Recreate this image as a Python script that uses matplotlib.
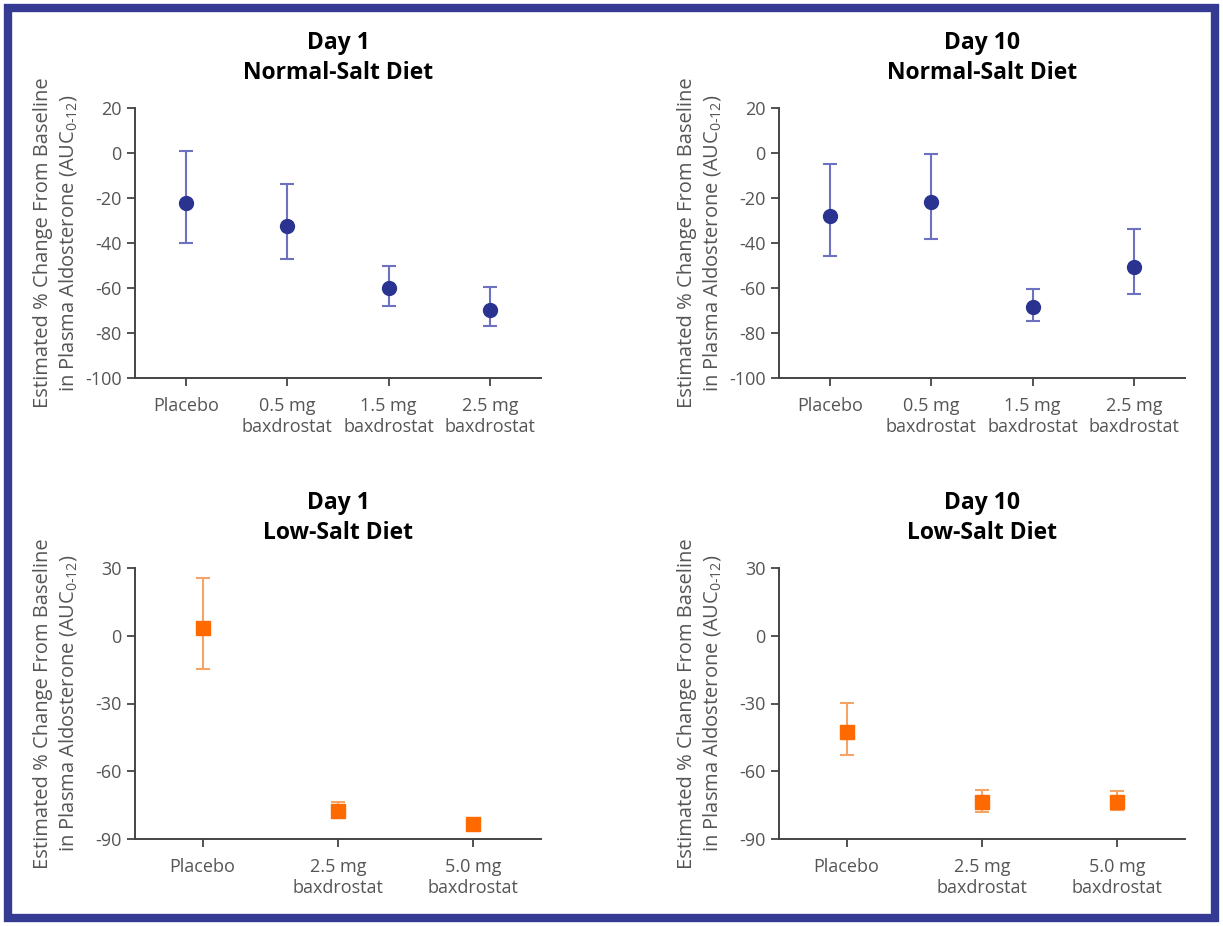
import matplotlib
matplotlib.use("Agg")
import matplotlib.pyplot as plt
import numpy as np
from matplotlib.patches import Rectangle

plt.rcParams['font.family'] = ['Open Sans', 'DejaVu Sans']
plt.rcParams['mathtext.fontset'] = 'custom'
plt.rcParams['mathtext.rm'] = 'Open Sans'
plt.rcParams['axes.unicode_minus'] = False

# normal-salt diet (4 groups)
normal_groups = ['Placebo', '0.5 mg\nbaxdrostat', '1.5 mg\nbaxdrostat', '2.5 mg\nbaxdrostat']
normal_d1 = [-22.3, -32.4, -60.0, -69.6]
normal_d1_lo = [-40.0, -46.9, -68.0, -76.8]
normal_d1_hi = [0.7, -13.7, -50.0, -59.7]
normal_d10 = [-28.2, -21.8, -68.3, -50.6]
normal_d10_lo = [-45.6, -38.3, -74.5, -62.8]
normal_d10_hi = [-4.9, -0.6, -60.6, -33.8]

# low-salt diet (3 groups)
low_groups = ['Placebo', '2.5 mg\nbaxdrostat', '5.0 mg\nbaxdrostat']
low_d1 = [3.3, -77.8, -83.2]
low_d1_lo = [-14.9, -80.9, -84.5]
low_d1_hi = [25.4, -73.7, -81.9]
low_d10 = [-42.5, -73.5, -73.5]
low_d10_lo = [-52.9, -77.9, -77.1]
low_d10_hi = [-29.7, -68.3, -68.9]

W, H = 1223, 926
fig = plt.figure(figsize=(W / 100, H / 100), dpi=100)

# dark blue frame
fig.patches.append(Rectangle((8 / W, 8 / H), 1 - 16 / W, 1 - 16 / H, transform=fig.transFigure,
                             fill=False, edgecolor='#353b93', linewidth=6))

ylab = 'Estimated % Change From Baseline\nin Plasma Aldosterone (AUC$_{\\mathregular{0\\text{-}12}}$)'
grey = '#444444'


def panel(rect, title, groups, vals, lo, hi, ylim, yticks, marker, mcol, ecol, msize):
    ax = fig.add_axes(rect)
    x = np.arange(len(groups))
    v = np.array(vals)
    err = [v - np.array(lo), np.array(hi) - v]
    ax.errorbar(x, v, yerr=err, fmt=marker, color=mcol, ecolor=ecol, markersize=msize,
                elinewidth=1.5, capsize=5, capthick=1.5, zorder=3)
    ax.set_xlim(-0.5, len(groups) - 0.5)
    ax.set_ylim(*ylim)
    ax.set_yticks(yticks)
    ax.set_xticks(x, labels=groups)
    ax.spines[['top', 'right']].set_visible(False)
    for s in ['left', 'bottom']:
        ax.spines[s].set_color(grey)
        ax.spines[s].set_linewidth(1.4)
    ax.tick_params(axis='both', colors=grey, labelsize=13, length=6, width=1.3, labelcolor='#555555')
    ax.tick_params(axis='x', pad=8)
    ax.set_title(title, fontsize=16.5, fontweight='bold', linespacing=1.35, pad=21)
    ax.set_ylabel(ylab, fontsize=14.5, color='#555555', linespacing=1.25)
    ax.yaxis.set_label_coords(-0.195, 0.5)
    ax.yaxis.label.set_va('center')
    return ax


navy = '#2b3391'
navy_e = '#6c72bf'
orange = '#ff6a00'
orange_e = '#f5a466'

top_b, top_h = (H - 378) / H, 270 / H
bot_b, bot_h = (H - 839) / H, 271 / H
lx, rx, w = 135 / W, 779 / W, 406 / W

panel([lx, top_b, w, top_h], 'Day 1\nNormal-Salt Diet', normal_groups, normal_d1, normal_d1_lo,
      normal_d1_hi, (-100, 20), range(-100, 21, 20), 'o', navy, navy_e, 10)
panel([rx, top_b, w, top_h], 'Day 10\nNormal-Salt Diet', normal_groups, normal_d10, normal_d10_lo,
      normal_d10_hi, (-100, 20), range(-100, 21, 20), 'o', navy, navy_e, 10)
panel([lx, bot_b, w, bot_h], 'Day 1\nLow-Salt Diet', low_groups, low_d1, low_d1_lo,
      low_d1_hi, (-90, 30), range(-90, 31, 30), 's', orange, orange_e, 10)
panel([rx, bot_b, w, bot_h], 'Day 10\nLow-Salt Diet', low_groups, low_d10, low_d10_lo,
      low_d10_hi, (-90, 30), range(-90, 31, 30), 's', orange, orange_e, 10)

fig.savefig('out.png', dpi=100)
